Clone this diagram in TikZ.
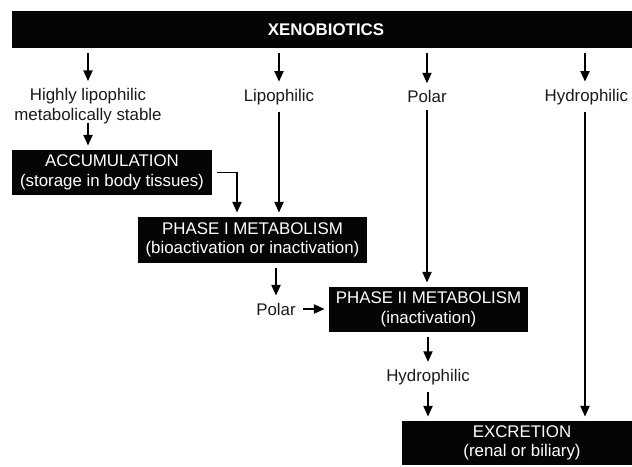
\documentclass[tikz,border=0pt]{standalone}
\usepackage{fontspec}
\setmainfont{Liberation Sans}
\usetikzlibrary{arrows.meta, positioning}
\definecolor{boxBlack}{HTML}{050505}
\definecolor{textDark}{HTML}{1A1A1A}

\begin{document}
\begin{tikzpicture}[
    box/.style={rectangle, fill=boxBlack, text=white, minimum width=#1,
                minimum height=1.125cm, inner sep=0pt, align=center,
                font=\fontsize{12}{14}\selectfont},
    lbl/.style={font=\fontsize{12}{14}\selectfont\color{textDark},
                align=center, inner sep=2pt},
    arr/.style={-{Triangle[length=7.5pt, width=6.5pt]}, line width=1pt,
                shorten <=3pt, shorten >=3pt},
  ]
    \useasboundingbox (0,0) rectangle (15.8,-11.65);

    % Xenobiotics
    \node[box=15.7cm, minimum height=0.925cm,
          font=\fontsize{12}{14}\selectfont\bfseries] (xeno) at (8.15,-0.7375) {XENOBIOTICS};

    % Kinds
    \node[lbl] (hlip) at (2.2,-2.65) {Highly lipophilic\\metabolically stable};
    \node[lbl] (lip) at (6.975,-2.42) {Lipophilic};
    \node[lbl] (pol) at (10.675,-2.42) {Polar};
    \node[lbl, anchor=east] (hyd) at (15.78,-2.42) {Hydrophilic};
    \coordinate (hcol) at (14.625,-2.42);

    % Boxes
    \node[box=5cm] (acc) at (2.8,-4.3125) {ACCUMULATION\\(storage in body tissues)};
    \node[box=5.725cm, minimum height=1.15cm] (ph1) at (6.3125,-6.0)
      {PHASE I METABOLISM\\(bioactivation or inactivation)};
    \node[lbl] (pol2) at (6.9,-7.725) {Polar};
    \node[box=4.975cm] (ph2) at (10.7125,-7.7375) {PHASE II METABOLISM\\(inactivation)};
    \node[lbl] (hyd2) at (10.7,-9.425) {Hydrophilic};
    \node[box=6cm, minimum height=1.1cm] (exc) at (13.05,-11.075) {EXCRETION\\(renal or biliary)};
    \coordinate (bend) at (5.925,-4.3125);

    % Arrows
    \draw[arr] (hlip |- xeno.south) -- (hlip);
    \draw[arr] (lip |- xeno.south) -- (lip);
    \draw[arr] (pol |- xeno.south) -- (pol);
    \draw[arr] (hcol |- xeno.south) -- (hcol |- hyd.north);

    \draw[arr, shorten <=-3pt] (hlip) -- (hlip |- acc.north);
    \draw[arr] (acc.east) -| (bend |- ph1.north);
    \draw[arr] (lip) -- (lip |- ph1.north);
    \draw[arr] (pol) -- (pol |- ph2.north);
    \draw[arr] (hcol |- hyd.south) -- (hcol |- exc.north);

    \draw[arr] (pol2 |- ph1.south) -- (pol2);
    \draw[arr] (pol2.east) -- (pol2.east -| ph2.west);
    \draw[arr] (hyd2 |- ph2.south) -- (hyd2);
    \draw[arr] (hyd2) -- (hyd2 |- exc.north);
  \end{tikzpicture}
\end{document}
